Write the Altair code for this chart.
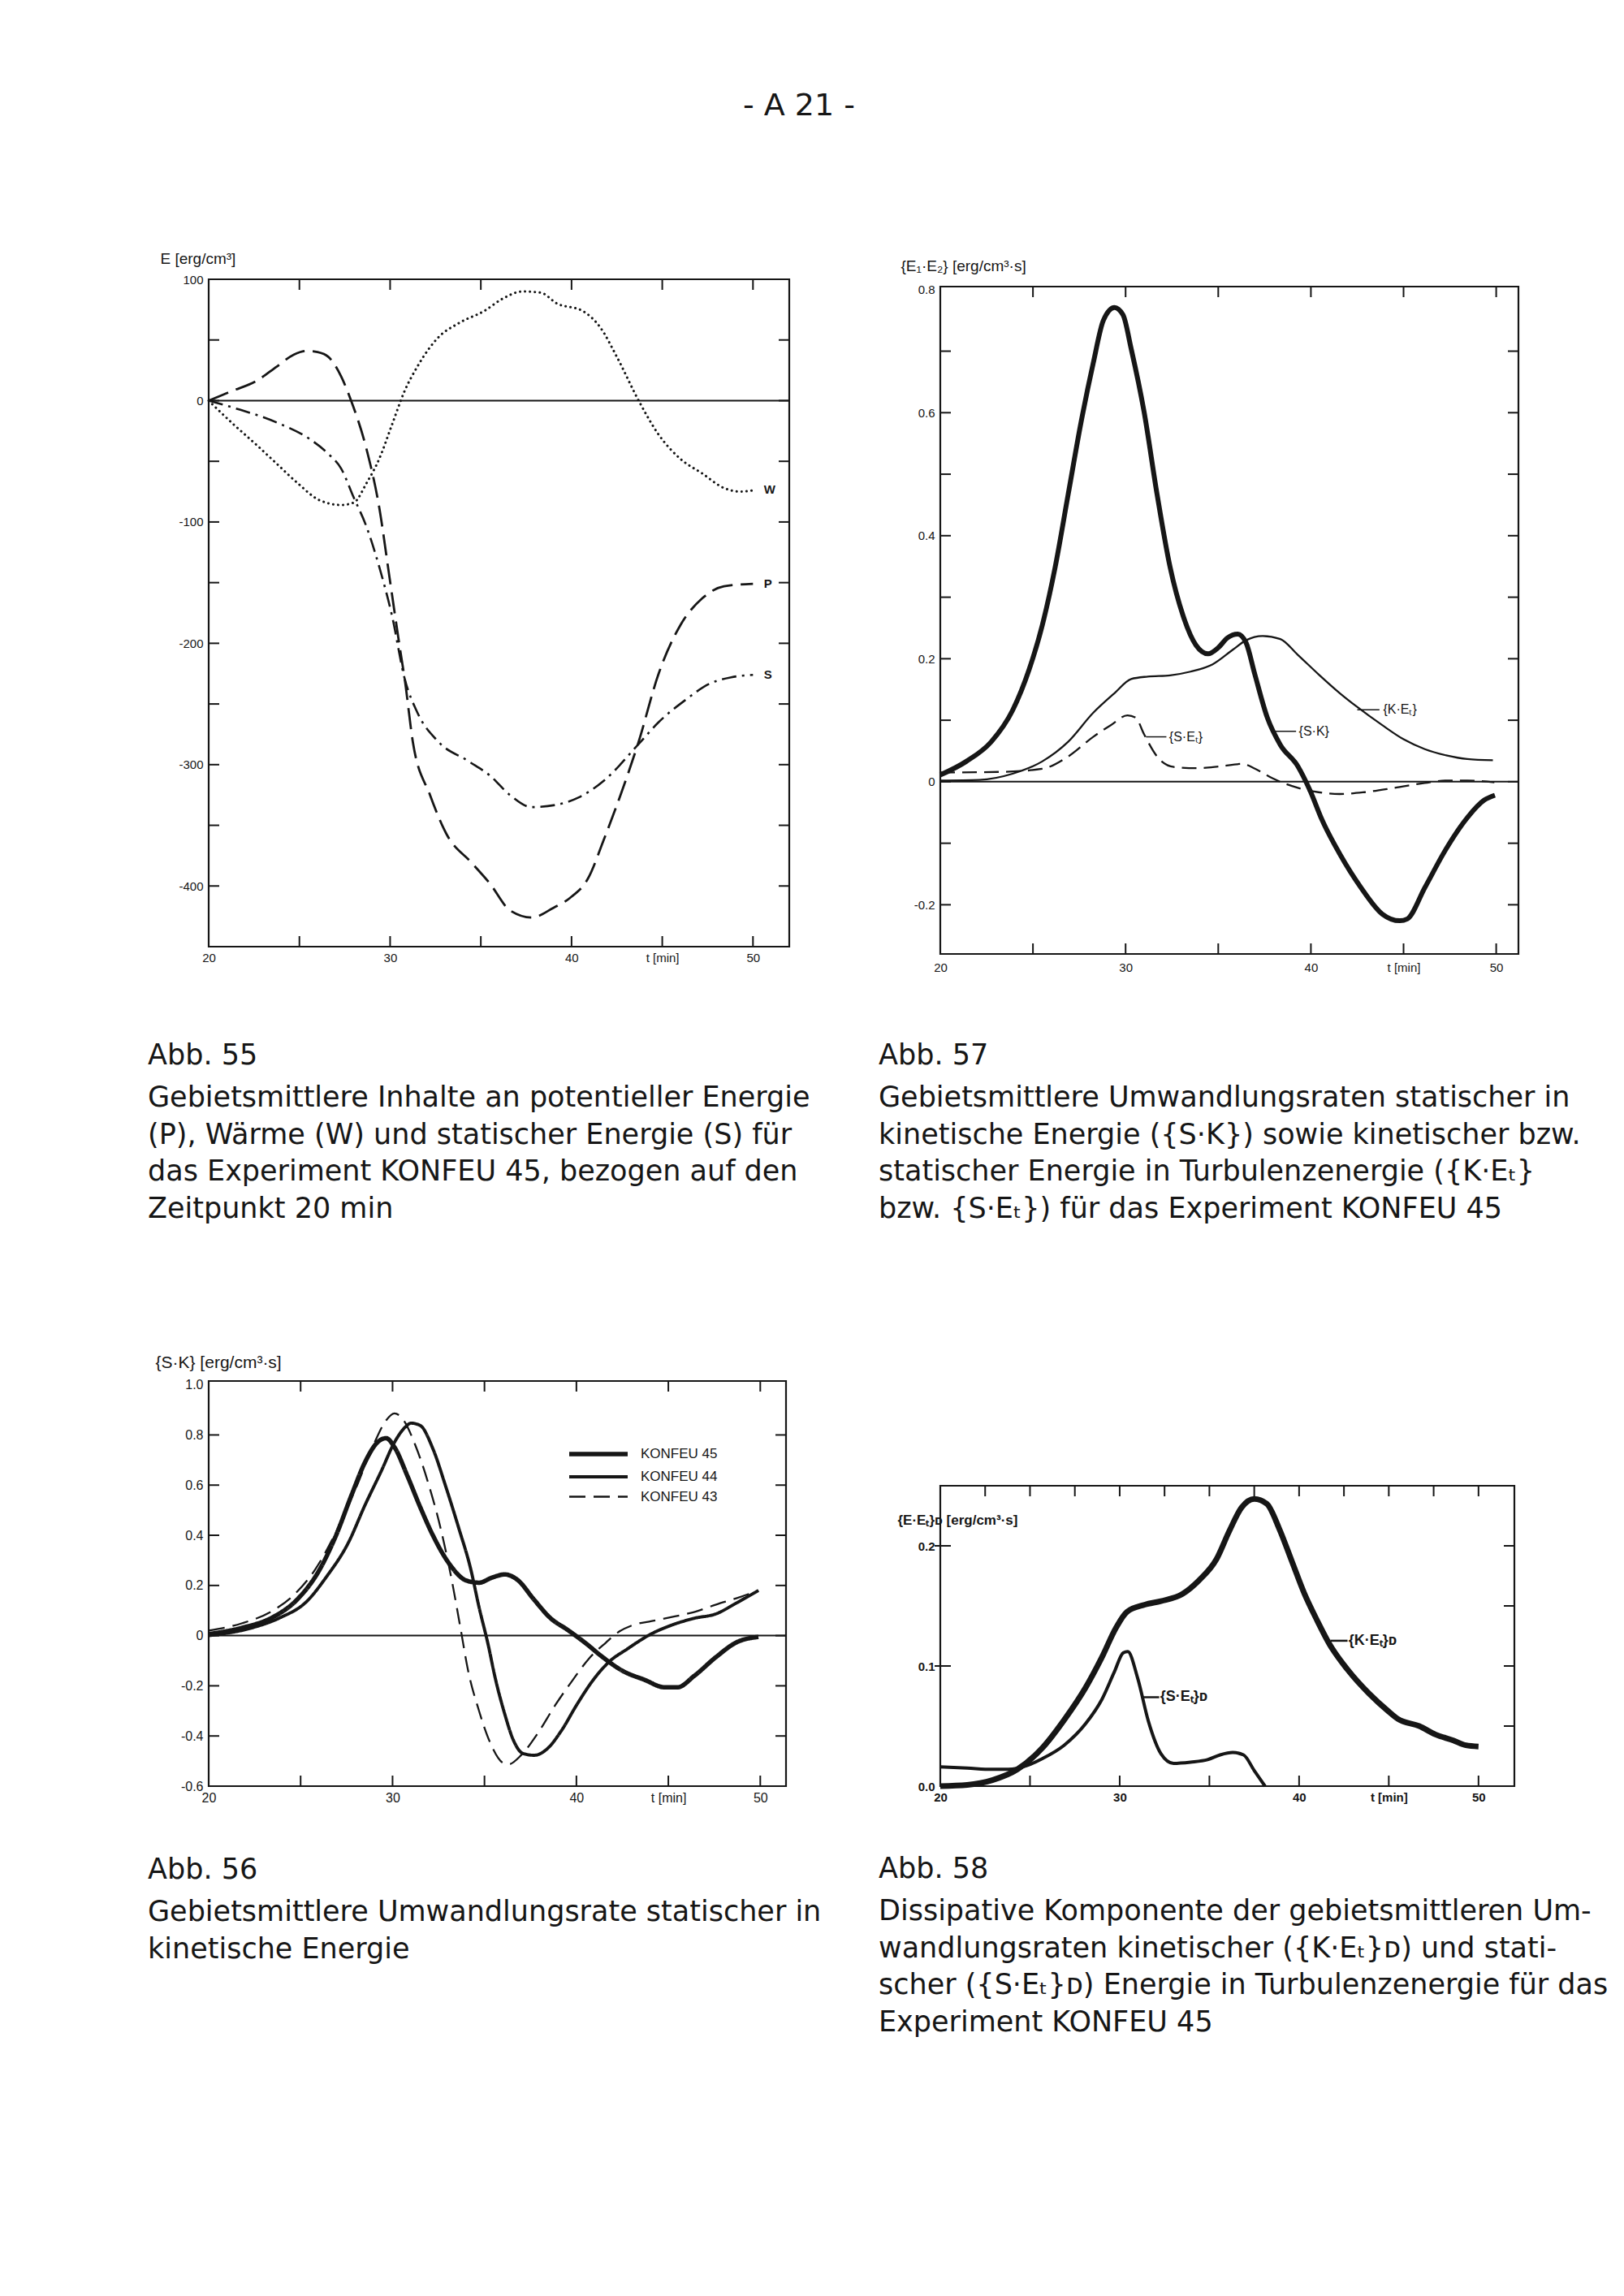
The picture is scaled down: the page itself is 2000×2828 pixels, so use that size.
import altair as alt
import pandas as pd

# ---------------- Abb. 55 : E [erg/cm^3] ----------------
a55_P_t = [20, 21.3, 22.6, 23.75, 24.7, 25.4, 26.0, 26.6, 27.3, 27.85, 28.7, 29.4, 29.96, 30.55, 30.8, 31.25, 32.2, 33.1, 34.5, 35.5, 36.6, 37.8, 39.0, 39.9, 40.9, 41.8, 42.7, 43.7, 44.8, 46.0, 47.2, 48.4, 50]
a55_P_v = [0, 8, 16, 28, 38, 41, 40, 36, 20, 0, -40, -88, -145, -205, -229, -281, -325, -357, -381, -398, -420, -426, -418, -410, -394, -361, -325, -281, -225, -185, -163, -153, -151]
a55_S_t = [20, 21.4, 23.75, 25.6, 26.6, 27.3, 28.0, 28.7, 29.4, 30.1, 30.8, 31.5, 32.65, 34.3, 35.5, 36.6, 37.8, 39.2, 40.4, 41.8, 43.7, 44.8, 46.25, 47.65, 48.8, 50]
a55_S_v = [0, -6, -18, -32, -44, -56, -80, -104, -137, -177, -229, -257, -281, -297, -309, -325, -335, -333, -327, -313, -283, -265, -247, -233, -228, -226]
a55_W_t = [20, 21.4, 22.6, 23.75, 24.9, 26.1, 27.3, 28.0, 28.7, 29.4, 30.1, 30.8, 31.5, 32.65, 33.8, 35.2, 36.2, 37.3, 38.3, 39.2, 40.6, 41.6, 42.5, 43.7, 44.8, 46.0, 47.2, 48.4, 49.3, 50]
a55_W_v = [0, -20, -36, -52, -68, -82, -86, -84, -68, -48, -20, 8, 28, 52, 64, 74, 84, 90, 89, 80, 74, 60, 36, 0, -28, -48, -60, -72, -75, -74]
a55_lab_text = ["W", "P", "S"]
a55_lab_t = [50.6, 50.6, 50.6]
a55_lab_v = [-73, -151, -226]
a55_ylabels = [100, 0, -100, -200, -300, -400]
a55_yticks = [50, 0, -50, -100, -150, -200, -250, -300, -350, -400]
a55_xticks = [25, 30, 35, 40, 45, 50]

# ---------------- Abb. 57 : conversion rates ----------------
a57_SK_t = [20, 21.4, 22.75, 23.9, 24.8, 25.5, 26.2, 26.9, 27.6, 28.25, 28.8, 29.4, 29.86, 30.3, 31.0, 31.7, 32.4, 33.1, 33.8, 34.45, 35.0, 35.5, 36.05, 36.5, 36.97, 37.65, 38.35, 39.3, 39.95, 40.6, 41.55, 42.7, 43.85, 44.8, 45.2, 46.15, 47.3, 48.45, 49.35, 49.93]
a57_SK_v = [0.011, 0.033, 0.065, 0.116, 0.183, 0.254, 0.349, 0.467, 0.585, 0.68, 0.75, 0.771, 0.759, 0.704, 0.601, 0.467, 0.349, 0.27, 0.222, 0.208, 0.218, 0.234, 0.24, 0.226, 0.175, 0.104, 0.06, 0.025, -0.014, -0.062, -0.117, -0.172, -0.215, -0.226, -0.223, -0.172, -0.109, -0.058, -0.03, -0.022]
a57_KE_t = [20, 22.1, 23.9, 25.5, 26.9, 28.25, 29.4, 30.3, 31.2, 32.4, 33.5, 34.7, 35.8, 36.5, 37.4, 38.35, 39.27, 40.4, 41.56, 42.48, 43.85, 45.0, 46.15, 47.3, 48.44, 49.82]
a57_KE_v = [0.002, 0.003, 0.013, 0.033, 0.065, 0.112, 0.144, 0.167, 0.171, 0.173, 0.179, 0.191, 0.215, 0.23, 0.237, 0.232, 0.207, 0.175, 0.144, 0.122, 0.092, 0.069, 0.053, 0.043, 0.037, 0.035]
a57_SE_t = [20, 23.2, 25.5, 26.9, 28.25, 29.2, 30.1, 30.55, 31.0, 31.7, 32.6, 33.8, 35.1, 36.3, 37.0, 37.9, 39.3, 40.4, 41.55, 42.9, 44.5, 46.15, 47.3, 48.45, 49.9]
a57_SE_v = [0.015, 0.016, 0.021, 0.041, 0.073, 0.092, 0.108, 0.104, 0.077, 0.041, 0.024, 0.022, 0.025, 0.029, 0.021, 0.006, -0.010, -0.017, -0.02, -0.017, -0.010, -0.002, 0.002, 0.002, -0.001]
a57_lab_text = ["{K·Eₜ}", "{S·K}", "{S·Eₜ}"]
a57_lab_t = [43.9, 39.35, 32.35]
a57_lab_v = [0.117, 0.082, 0.073]
a57_lead_t1 = [42.5, 38.0, 31.1]
a57_lead_t2 = [43.7, 39.2, 32.2]
a57_ylabels = [0.8, 0.6, 0.4, 0.2, 0, -0.2]
a57_yticks = [0.7, 0.6, 0.5, 0.4, 0.3, 0.2, 0.1, 0.0, -0.1, -0.2]
a57_xticks = [25, 30, 35, 40, 45, 50]

# ---------------- Abb. 56 : {S·K} for three experiments ----------------
a56_runs = ["KONFEU 45", "KONFEU 44", "KONFEU 43"]
a56_45_t = [20, 21.8, 23.45, 24.8, 26.0, 26.9, 27.8, 28.5, 29.2, 29.65, 30.1, 30.8, 31.5, 32.2, 33.1, 34.0, 34.7, 35.4, 36.1, 36.8, 37.7, 38.6, 39.5, 40.5, 41.4, 42.5, 43.7, 44.8, 45.5, 46.4, 47.6, 48.7, 49.9]
a56_45_v = [0.006, 0.031, 0.072, 0.143, 0.259, 0.395, 0.566, 0.691, 0.772, 0.787, 0.752, 0.638, 0.513, 0.399, 0.285, 0.22, 0.211, 0.231, 0.244, 0.222, 0.143, 0.069, 0.024, -0.03, -0.084, -0.14, -0.176, -0.206, -0.206, -0.161, -0.085, -0.027, -0.005]
a56_44_t = [20, 22.3, 23.9, 25.3, 26.4, 27.6, 28.5, 29.4, 30.1, 30.7, 31.0, 31.5, 32.2, 32.9, 33.6, 34.25, 34.7, 35.2, 35.6, 36.1, 36.55, 37.1, 37.7, 38.4, 39.2, 40.0, 40.9, 41.8, 42.75, 44.1, 45.3, 46.4, 47.6, 48.7, 49.9]
a56_44_v = [0.0, 0.030, 0.072, 0.134, 0.234, 0.371, 0.52, 0.658, 0.77, 0.832, 0.847, 0.838, 0.744, 0.593, 0.429, 0.266, 0.115, -0.036, -0.174, -0.312, -0.413, -0.47, -0.477, -0.452, -0.377, -0.278, -0.178, -0.103, -0.054, 0.008, 0.045, 0.069, 0.087, 0.13, 0.18]
a56_43_t = [20, 21.8, 23.45, 24.6, 25.75, 26.9, 28.05, 28.95, 29.65, 30.1, 30.55, 31.25, 31.95, 32.65, 33.2, 33.7, 34.1, 34.7, 35.3, 36.0, 36.3, 37.0, 37.9, 38.85, 39.8, 40.7, 41.6, 42.3, 43.0, 44.1, 45.3, 46.4, 47.6, 48.7, 49.9]
a56_43_v = [0.02, 0.049, 0.098, 0.16, 0.259, 0.409, 0.596, 0.758, 0.858, 0.886, 0.864, 0.757, 0.606, 0.417, 0.229, 0.028, -0.136, -0.299, -0.425, -0.507, -0.513, -0.476, -0.389, -0.277, -0.177, -0.09, -0.028, 0.015, 0.04, 0.058, 0.076, 0.094, 0.124, 0.149, 0.18]
a56_ylabels = [1.0, 0.8, 0.6, 0.4, 0.2, 0, -0.2, -0.4, -0.6]
a56_yticks = [0.8, 0.6, 0.4, 0.2, 0, -0.2, -0.4]
a56_xticks = [25, 30, 35, 40, 45, 50]

# ---------------- Abb. 58 : dissipative components ----------------
a58_KD_t = [20, 21.5, 22.9, 24.3, 25.7, 26.9, 28.1, 29.0, 29.8, 30.4, 31.4, 32.3, 33.5, 34.4, 35.4, 36.1, 36.8, 37.5, 38.2, 38.9, 39.6, 40.3, 41.0, 41.7, 42.7, 43.9, 45.0, 45.5, 46.7, 47.6, 48.6, 49.3, 50]
a58_KD_v = [0.0, 0.001, 0.005, 0.014, 0.032, 0.055, 0.082, 0.107, 0.132, 0.145, 0.151, 0.154, 0.16, 0.171, 0.189, 0.212, 0.232, 0.239, 0.235, 0.214, 0.187, 0.16, 0.138, 0.118, 0.097, 0.077, 0.062, 0.056, 0.05, 0.043, 0.038, 0.034, 0.033]
a58_SD_t = [20, 21.5, 22.9, 23.8, 24.8, 25.7, 26.9, 28.1, 29.0, 29.7, 30.2, 30.45, 31.0, 31.6, 32.3, 33.0, 33.95, 34.9, 35.6, 36.3, 36.9, 37.5, 38.1]
a58_SD_v = [0.016, 0.015, 0.014, 0.014, 0.017, 0.023, 0.034, 0.052, 0.072, 0.095, 0.111, 0.112, 0.09, 0.054, 0.027, 0.019, 0.02, 0.022, 0.026, 0.028, 0.026, 0.013, 0.0]
a58_lab_text = ["{K·Eₜ}ᴅ", "{S·Eₜ}ᴅ"]
a58_lab_t = [42.75, 32.25]
a58_lab_v = [0.121, 0.074]
a58_lead_t1 = [41.75, 31.2]
a58_lead_t2 = [42.7, 32.2]
a58_ylabels = [0.2, 0.1, 0.0]
a58_yticks_left = [0.2, 0.1]
a58_yticks_right = [0.05, 0.1, 0.15, 0.2]
a58_xticks_top = [22.5, 25, 27.5, 30, 32.5, 35, 37.5, 40, 42.5, 45, 47.5, 50]
a58_xticks_bot = [25, 30, 35, 40, 45, 50]

x_labels = [20, 30, 40, 45, 50]

# ---------------- captions ----------------
cap55 = ["Gebietsmittlere Inhalte an potentieller Energie",
         "(P), Wärme (W) und statischer Energie (S) für",
         "das Experiment KONFEU 45, bezogen auf den",
         "Zeitpunkt 20 min"]
cap57 = ["Gebietsmittlere Umwandlungsraten statischer in",
         "kinetische Energie ({S·K}) sowie kinetischer bzw.",
         "statischer Energie in Turbulenzenergie ({K·Eₜ}",
         "bzw. {S·Eₜ}) für das Experiment KONFEU 45"]
cap56 = ["Gebietsmittlere Umwandlungsrate statischer in",
         "kinetische Energie"]
cap58 = ["Dissipative Komponente der gebietsmittleren Um-",
         "wandlungsraten kinetischer ({K·Eₜ}ᴅ) und stati-",
         "scher ({S·Eₜ}ᴅ) Energie in Turbulenzenergie für das",
         "Experiment KONFEU 45"]

INK = "#161616"
TF = "Liberation Sans"
CF = "DejaVu Sans"
TL = 13  # tick length


def make_enc(xdom, ydom, ylabels, yexpr, ytitle, tx, ty, xpad=6, weight="normal", tweight="normal",
             tsize=19, lsize=15):
    xs = alt.Scale(domain=xdom, nice=False, zero=False)
    ys = alt.Scale(domain=ydom, nice=False, zero=False)
    xa = alt.Axis(values=x_labels, labelExpr="datum.value == 45 ? 't [min]' : toString(datum.value)",
                  ticks=False, domain=False, grid=False, labelPadding=xpad, labelFont=TF,
                  labelFontSize=lsize, labelColor=INK, labelFontWeight=weight, labelOverlap=False,
                  labelFlush=False, labelBound=False, title=None)
    ya = alt.Axis(values=ylabels, labelExpr=yexpr, ticks=False, domain=False, grid=False,
                  labelPadding=7, labelFont=TF, labelFontSize=lsize, labelColor=INK,
                  labelFontWeight=weight, labelOverlap=False, labelFlush=False, labelBound=False,
                  title=ytitle, titleX=tx, titleY=ty, titleAngle=0, titleAlign="left",
                  titleBaseline="middle", titleFont=TF, titleFontSize=tsize,
                  titleFontWeight=tweight, titleColor=INK)

    def X(f="t"):
        return alt.X(f"{f}:Q", scale=xs, axis=xa)

    def Y(f="v"):
        return alt.Y(f"{f}:Q", scale=ys, axis=ya)
    return X, Y


def line(X, Y, t, v, width, dash=None, cap="butt"):
    kw = dict(color=INK, strokeWidth=width, interpolate="monotone", strokeCap=cap, strokeJoin="round")
    if dash is not None:
        kw["strokeDash"] = dash
    return alt.Chart(pd.DataFrame({"t": t, "v": v})).mark_line(**kw).encode(x=X(), y=Y())


def xticks(X, vals, h, top):
    ch = alt.Chart(pd.DataFrame({"t": vals})).mark_rule(color=INK, strokeWidth=2)
    if top:
        return ch.encode(x=X(), y=alt.value(0), y2=alt.value(TL))
    return ch.encode(x=X(), y=alt.value(h), y2=alt.value(h - TL))


def yticks(Y, vals, w, right, x0=0):
    ch = alt.Chart(pd.DataFrame({"v": vals})).mark_rule(color=INK, strokeWidth=2)
    if right:
        return ch.encode(y=Y(), x=alt.value(w), x2=alt.value(w - TL))
    return ch.encode(y=Y(), x=alt.value(x0), x2=alt.value(TL))


def zero_line(Y):
    return alt.Chart(pd.DataFrame({"v": [0]})).mark_rule(color=INK, strokeWidth=2).encode(y=Y())


def labels(X, Y, text, t, v, size=15, weight="normal"):
    df = pd.DataFrame({"t": t, "v": v, "txt": text})
    return alt.Chart(df).mark_text(align="left", baseline="middle", font=TF, fontSize=size,
                                   fontWeight=weight, color=INK).encode(x=X(), y=Y(), text="txt:N")


def leaders(X, Y, t1, t2, v, width=1.5):
    df = pd.DataFrame({"t": t1, "t2": t2, "v": v})
    return alt.Chart(df).mark_rule(color=INK, strokeWidth=width).encode(
        x=X(), x2=alt.X2("t2"), y=Y())


def caption(title, lines, dx, offset):
    return alt.TitleParams(text=title, subtitle=lines, orient="bottom", anchor="start", frame="group",
                           dx=dx, offset=offset, font=CF, fontSize=35, fontWeight="normal", color=INK,
                           subtitleFont=CF, subtitleFontSize=35, subtitleColor=INK,
                           subtitlePadding=17, subtitleLineHeight=45.5)


# ---------- panel Abb. 55 ----------
W1, H1 = 715, 822
X1, Y1 = make_enc([20, 52], [-450, 100], a55_ylabels, "toString(datum.value)", "E [erg/cm³]", -60, -26)
p55 = alt.layer(
    zero_line(Y1),
    xticks(X1, a55_xticks, H1, True), xticks(X1, a55_xticks, H1, False),
    yticks(Y1, a55_yticks, W1, False), yticks(Y1, a55_yticks, W1, True),
    line(X1, Y1, a55_W_t, a55_W_v, 3, [0.1, 6], "round"),
    line(X1, Y1, a55_S_t, a55_S_v, 2.6, [18, 7, 3, 7]),
    line(X1, Y1, a55_P_t, a55_P_v, 2.8, [26, 10]),
    labels(X1, Y1, a55_lab_text, a55_lab_t, a55_lab_v, size=15, weight="bold"),
).properties(width=W1, height=H1, title=caption("Abb. 55", cap55, -75, 96))

# ---------- panel Abb. 57 ----------
W2, H2 = 712, 822
X2, Y2 = make_enc([20, 51.2], [-0.28, 0.805], a57_ylabels, "toString(datum.value)",
                  "{E₁·E₂}  [erg/cm³·s]", -49, -26, xpad=9)
p57 = alt.layer(
    zero_line(Y2),
    xticks(X2, a57_xticks, H2, True), xticks(X2, a57_xticks, H2, False),
    yticks(Y2, a57_yticks, W2, False), yticks(Y2, a57_yticks, W2, True),
    line(X2, Y2, a57_SE_t, a57_SE_v, 2.3, [18, 9]),
    line(X2, Y2, a57_KE_t, a57_KE_v, 2.3),
    line(X2, Y2, a57_SK_t, a57_SK_v, 6),
    leaders(X2, Y2, a57_lead_t1, a57_lead_t2, a57_lab_v),
    labels(X2, Y2, a57_lab_text, a57_lab_t, a57_lab_v, size=16),
).properties(width=W2, height=H2, title=caption("Abb. 57", cap57, -76, 84))

# ---------- panel Abb. 56 ----------
W3, H3 = 711, 499
X3, Y3 = make_enc([20, 51.4], [-0.6, 1.015], a56_ylabels,
                  "datum.value == 1 ? '1.0' : toString(datum.value)",
                  "{S·K}  [erg/cm³·s]", -66, -23, tsize=21, lsize=16)
run_col = ([a56_runs[0]] * len(a56_45_t) + [a56_runs[1]] * len(a56_44_t) + [a56_runs[2]] * len(a56_43_t))
df56 = pd.DataFrame({"t": a56_45_t + a56_44_t + a56_43_t,
                     "v": a56_45_v + a56_44_v + a56_43_v,
                     "run": run_col})
leg = alt.Legend(title=None, orient="none", legendX=465, legendY=75, symbolType="M-3,0H3",
                 symbolSize=576, symbolStrokeColor=INK, symbolFillColor="transparent",
                 labelFont=TF, labelFontSize=17,
                 labelColor=INK, labelOffset=37, rowPadding=3)
k_lines = alt.Chart(df56).mark_line(color=INK, interpolate="monotone", strokeJoin="round").encode(
    x=X3(), y=Y3(),
    strokeWidth=alt.StrokeWidth("run:N", scale=alt.Scale(domain=a56_runs, range=[5.5, 2.3, 2.3]), legend=leg),
    strokeDash=alt.StrokeDash("run:N", scale=alt.Scale(domain=a56_runs, range=[[1, 0], [1, 0], [20, 10]]), legend=leg),
)
p56 = alt.layer(
    zero_line(Y3),
    xticks(X3, a56_xticks, H3, True), xticks(X3, a56_xticks, H3, False),
    yticks(Y3, a56_yticks, W3, False), yticks(Y3, a56_yticks, W3, True),
    k_lines,
).properties(width=W3, height=H3, title=caption("Abb. 56", cap56, -75, 64))

# ---------- panel Abb. 58 ----------
W4, H4 = 707, 370
X4, Y4 = make_enc([20, 52], [0, 0.25], a58_ylabels, "format(datum.value, '.1f')",
                  "{E·Eₜ}ᴅ  [erg/cm³·s]", -53, 42, weight="bold", tweight="bold", tsize=17)
p58 = alt.layer(
    xticks(X4, a58_xticks_top, H4, True), xticks(X4, a58_xticks_bot, H4, False),
    yticks(Y4, a58_yticks_left, W4, False, x0=-7), yticks(Y4, a58_yticks_right, W4, True),
    line(X4, Y4, a58_SD_t, a58_SD_v, 4),
    line(X4, Y4, a58_KD_t, a58_KD_v, 7),
    leaders(X4, Y4, a58_lead_t1, a58_lead_t2, a58_lab_v, width=2.5),
    labels(X4, Y4, a58_lab_text, a58_lab_t, a58_lab_v, size=18, weight="bold"),
).properties(width=W4, height=H4, title=caption("Abb. 58", cap58, -76, 64))


def spacer():
    return alt.Chart(pd.DataFrame({"a": [0]})).mark_point(opacity=0).encode(
        x=alt.value(0), y=alt.value(0)).properties(width=1, height=1,
                                                   view=alt.ViewBackground(stroke="transparent"))


row1 = alt.hconcat(p55, alt.vconcat(spacer(), p57, spacing=8, bounds="flush"),
                   spacing=186, bounds="flush")
row2 = alt.hconcat(p56, alt.vconcat(spacer(), p58, spacing=128, bounds="flush"),
                   spacing=190, bounds="flush").resolve_scale(
    strokeWidth="independent", strokeDash="independent").resolve_legend(
    strokeWidth="independent", strokeDash="independent")

chart = alt.vconcat(row1, row2, spacing=1357, bounds="flush").resolve_scale(
    strokeWidth="independent", strokeDash="independent").resolve_legend(
    strokeWidth="independent", strokeDash="independent").properties(
    title=alt.TitleParams("- A 21 -", anchor="start", frame="group", dx=658, offset=158,
                          font=CF, fontSize=38, fontWeight="normal", color=INK),
    padding={"left": 172, "top": 103, "right": 10, "bottom": 20},
    background="white",
).configure_view(stroke=INK, strokeWidth=2.2)

chart.save("out.html", embed_options={"renderer": "svg", "actions": False})
